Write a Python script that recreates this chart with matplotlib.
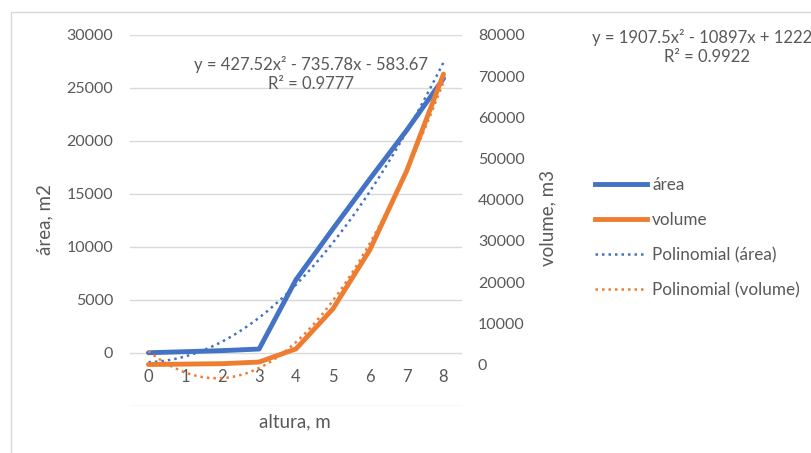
import numpy as np
import matplotlib
matplotlib.use("Agg")
import matplotlib.pyplot as plt
from matplotlib.lines import Line2D
from matplotlib.patches import Rectangle

# ---- data ----
altura = [0, 1, 2, 3, 4, 5, 6, 7, 8]
area = [0, 100, 200, 350, 6900, 11700, 16400, 21000, 25900]
volume = [0, 100, 200, 600, 3800, 13500, 27800, 47000, 70500]
# trendline coefficients shown on the chart (Excel x = category index + 1)
area_fit = [427.52, -735.78, -583.67]
volume_fit = [1907.5, -10897, 12223]
area_eq = "y = 427.52x² - 735.78x - 583.67\nR² = 0.9777"
volume_eq = "y = 1907.5x² - 10897x + 12223\nR² = 0.9922"
left_ticks = [0, 5000, 10000, 15000, 20000, 25000, 30000]
right_ticks = [0, 10000, 20000, 30000, 40000, 50000, 60000, 70000, 80000]

BLUE = "#4472C4"
ORANGE = "#ED7D31"
TXT = "#595959"
GRID = "#D9D9D9"

plt.rcParams['font.family'] = ['Lato', 'DejaVu Sans']
plt.rcParams['font.size'] = 11.5

W, H = 811, 453
fig = plt.figure(figsize=(W / 100, H / 100), dpi=100)

def fx(px):
    return px / W

def fy(py):
    return 1 - py / H

# chart border
fig.add_artist(Rectangle((fx(11), fy(470)), fx(820) - fx(11), fy(12) - fy(470),
                         transform=fig.transFigure, fill=False, edgecolor=GRID, lw=1))

ax = fig.add_axes([fx(130), fy(405.7), fx(462) - fx(130), fy(35) - fy(405.7)])
ax2 = ax.twinx()

ax.set_xlim(-0.5, 8.5)
ax.set_ylim(-5000, 30000)
ax2.set_ylim(-10000, 80000)

for a in (ax, ax2):
    for s in a.spines.values():
        s.set_visible(False)
    a.tick_params(length=0, colors=TXT, labelsize=11.5)

grid_vals = np.arange(-5000, 30001, 5000)
ax.set_yticks(grid_vals)
ax.set_yticklabels(["" if v < 0 else str(v) for v in grid_vals])
ax.tick_params(axis='y', pad=12)
ax.grid(axis='y', color=GRID, lw=1)
ax.set_axisbelow(True)

ax2.set_yticks(right_ticks)
ax2.set_yticklabels([str(v) for v in right_ticks])
ax2.tick_params(axis='y', pad=11.5)

ax.spines['bottom'].set_position(('data', 0))
ax.set_xticks(altura)
ax.set_xticklabels([str(v) for v in altura])
ax.tick_params(axis='x', pad=12, labelsize=12)

x = np.array(altura)
xs = np.linspace(0, 8, 200)
ax.plot(x, area, color=BLUE, lw=3.5, solid_capstyle='round', zorder=3)
ax2.plot(x, volume, color=ORANGE, lw=3.5, solid_capstyle='round', zorder=3)
ax.plot(xs, np.polyval(area_fit, xs + 1), color=BLUE, lw=1.8,
        linestyle=(0, (1, 1.6)), zorder=4)
ax2.plot(xs, np.polyval(volume_fit, xs + 1), color=ORANGE, lw=1.8,
         linestyle=(0, (1, 1.6)), zorder=4)

# trendline labels (the right one runs past the chart edge, as in the original)
fig.text(fx(311.5), fy(74), area_eq, ha='center', va='center', color=TXT,
         fontsize=12, linespacing=1.3)
fig.text(fx(707), fy(47), volume_eq, ha='center', va='center', color=TXT,
         fontsize=12, linespacing=1.3)

# axis titles
fig.text(fx(45), fy(220), "área, m2", rotation=90, ha='center', va='center',
         color=TXT, fontsize=13.5)
fig.text(fx(548), fy(218), "volume, m3", rotation=90, ha='center', va='center',
         color=TXT, fontsize=13.5)
fig.text(fx(295), fy(422), "altura, m", ha='center', va='center', color=TXT,
         fontsize=13.5)

handles = [
    Line2D([], [], color=BLUE, lw=3.5),
    Line2D([], [], color=ORANGE, lw=3.5),
    Line2D([], [], color=BLUE, lw=1.8, linestyle=(0, (1, 1.6))),
    Line2D([], [], color=ORANGE, lw=1.8, linestyle=(0, (1, 1.6))),
]
labels = ["área", "volume", "Polinomial (área)", "Polinomial (volume)"]
leg = fig.legend(handles, labels, loc='upper left',
                 bbox_to_anchor=(fx(595), fy(177)), frameon=False,
                 handlelength=3.05, handletextpad=0.29, labelspacing=1.11,
                 borderpad=0, borderaxespad=0, fontsize=12.3)
for t in leg.get_texts():
    t.set_color(TXT)

fig.savefig("out.png", dpi=100)
